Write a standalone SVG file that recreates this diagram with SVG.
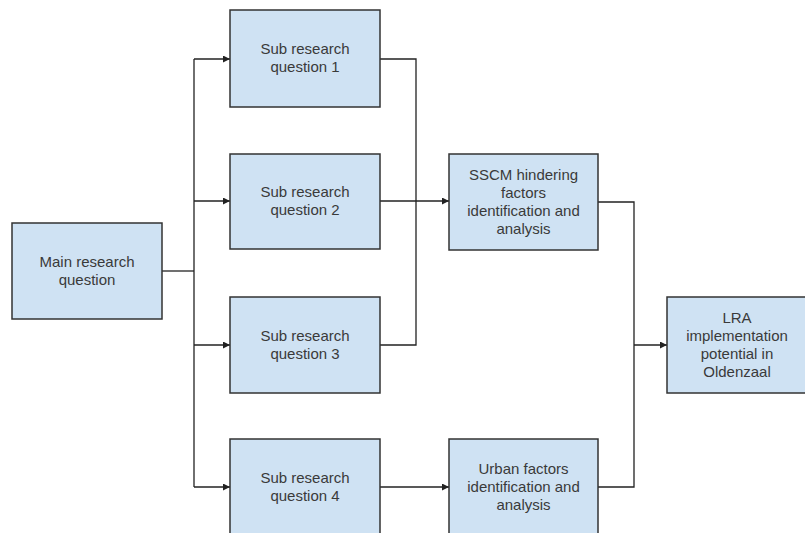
<svg xmlns="http://www.w3.org/2000/svg" width="805" height="533" viewBox="0 0 805 533">
<defs>
<marker id="ah" viewBox="0 0 10 10" refX="10" refY="5" markerWidth="7" markerHeight="7" markerUnits="userSpaceOnUse" orient="auto">
<path d="M0,0 L10,5 L0,10 z" fill="#222"/>
</marker>
<style>
.box{fill:#cfe2f3;stroke:#333;stroke-width:1.5}
.t{font-family:"Liberation Sans",Arial,sans-serif;font-size:15px;fill:#3a3a3a;text-anchor:middle}
.c{fill:none;stroke:#222;stroke-width:1.3}
.a{marker-end:url(#ah)}
</style>
</defs>
<rect width="805" height="533" fill="#fff"/>
<g id="connectors">
<path class="c" d="M162,271 H194"/>
<path class="c" d="M194,59 V487"/>
<path class="c a" d="M194,59 H230"/>
<path class="c a" d="M194,201 H230"/>
<path class="c a" d="M194,345 H230"/>
<path class="c a" d="M194,487 H230"/>
<path class="c" d="M380,59 H416 V345 H380"/>
<path class="c a" d="M380,201 H449"/>
<path class="c a" d="M380,487 H449"/>
<path class="c" d="M598,202 H634 V487 H598"/>
<path class="c a" d="M634,345 H667"/>
</g>
<g id="main">
<rect class="box" x="12" y="223" width="150" height="96"/>
<text class="t" x="87" y="267">Main research</text>
<text class="t" x="87" y="285">question</text>
</g>
<g id="sub1">
<rect class="box" x="230" y="10" width="150" height="97"/>
<text class="t" x="305" y="54">Sub research</text>
<text class="t" x="305" y="72">question 1</text>
</g>
<g id="sub2">
<rect class="box" x="230" y="154" width="150" height="95"/>
<text class="t" x="305" y="197">Sub research</text>
<text class="t" x="305" y="215">question 2</text>
</g>
<g id="sub3">
<rect class="box" x="230" y="297" width="150" height="96"/>
<text class="t" x="305" y="341">Sub research</text>
<text class="t" x="305" y="359">question 3</text>
</g>
<g id="sub4">
<rect class="box" x="230" y="439" width="150" height="96"/>
<text class="t" x="305" y="483">Sub research</text>
<text class="t" x="305" y="501">question 4</text>
</g>
<g id="sscm">
<rect class="box" x="449" y="154" width="149" height="96"/>
<text class="t" x="523.5" y="180">SSCM hindering</text>
<text class="t" x="523.5" y="198">factors</text>
<text class="t" x="523.5" y="216">identification and</text>
<text class="t" x="523.5" y="234">analysis</text>
</g>
<g id="urban">
<rect class="box" x="449" y="439" width="149" height="96"/>
<text class="t" x="523.5" y="474">Urban factors</text>
<text class="t" x="523.5" y="492">identification and</text>
<text class="t" x="523.5" y="510">analysis</text>
</g>
<g id="lra">
<rect class="box" x="667" y="297" width="145" height="96"/>
<text class="t" x="737" y="323">LRA</text>
<text class="t" x="737" y="341">implementation</text>
<text class="t" x="737" y="359">potential in</text>
<text class="t" x="737" y="377">Oldenzaal</text>
</g>
</svg>
